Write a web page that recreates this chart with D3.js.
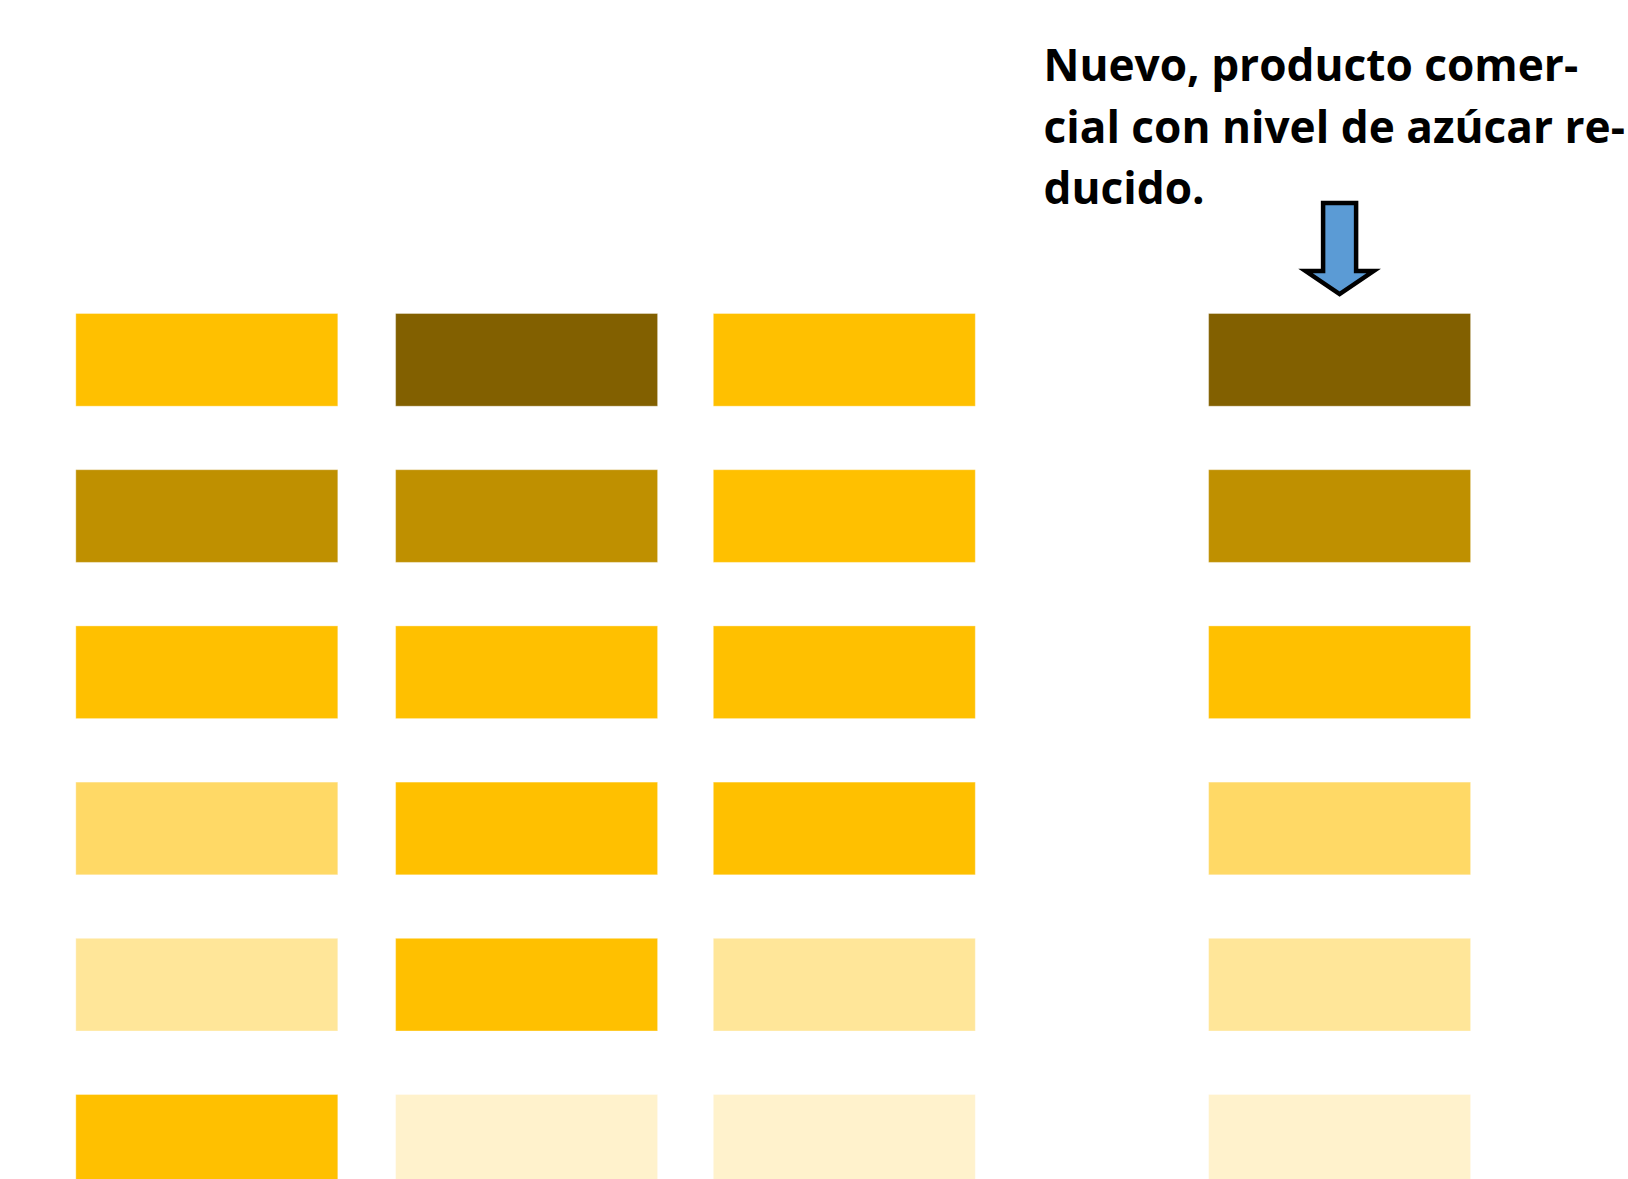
<!DOCTYPE html>
<html>
<head>
<meta charset="utf-8">
<script src="https://cdn.jsdelivr.net/npm/d3@7"></script>
<style>
  html, body { margin: 0; padding: 0; background: #ffffff; overflow: hidden; }
  svg { display: block; }
</style>
</head>
<body>
<svg id="chart" width="1628" height="1179"></svg>
<script>
// ---- Data ----
const columns = ["Muestra 1", "Muestra 2", "Muestra 3", "Nuevo"];
const rows = [1, 2, 3, 4, 5, 6];
// colour level per cell (0 = lightest ... 5 = darkest), one array per column, top to bottom
const levelsMuestra1 = [3, 4, 3, 2, 1, 3];
const levelsMuestra2 = [5, 4, 3, 3, 3, 0];
const levelsMuestra3 = [3, 3, 3, 3, 1, 0];
const levelsNuevo    = [5, 4, 3, 2, 1, 0];
const levelColors = ["#FFF2CC", "#FFE699", "#FFD966", "#FFC000", "#BF9000", "#826000"];
const annotationLines = ["Nuevo, producto comer-", "cial con nivel de azúcar re-", "ducido."];
const highlighted = "Nuevo";

const allLevels = [levelsMuestra1, levelsMuestra2, levelsMuestra3, levelsNuevo];
const cells = [];
columns.forEach((c, ci) => rows.forEach((r, ri) => cells.push({ col: c, row: r, level: allLevels[ci][ri] })));

// ---- Scales ----
const svg = d3.select("#chart");
const x = d3.scaleOrdinal().domain(columns).range([75.8, 395.6, 713.3, 1208.6]);
const barW = 262;
const y = d3.scaleLinear().domain([1, 2]).range([313.5, 469.7]);
const barH = 92.7;
const color = d3.scaleOrdinal().domain(d3.range(levelColors.length)).range(levelColors);

// ---- Cells ----
svg.append("g").selectAll("rect").data(cells).join("rect")
  .attr("x", d => x(d.col))
  .attr("y", d => y(d.row))
  .attr("width", barW)
  .attr("height", barH)
  .attr("fill", d => color(d.level))
  .attr("stroke", "#ffffff")
  .attr("stroke-opacity", 0.35)
  .attr("stroke-width", 1);

// ---- Annotation text ----
const ann = svg.append("text")
  .attr("font-family", "'Open Sans', sans-serif")
  .attr("font-weight", 700)
  .attr("font-size", 44.2)
  .attr("fill", "#000");
annotationLines.forEach((t, i) => {
  ann.append("tspan").attr("x", 1043.5).attr("y", 81 + i * 61.5).text(t);
});

// ---- Arrow pointing to highlighted column ----
const cx = x(highlighted) + barW / 2;
const shaftHalf = 16.5, headHalf = 34;
const topY = 203, headY = 271, tipY = 294;
const arrowPts = [
  [cx - shaftHalf, topY], [cx + shaftHalf, topY], [cx + shaftHalf, headY],
  [cx + headHalf, headY], [cx, tipY], [cx - headHalf, headY], [cx - shaftHalf, headY]
];
svg.append("path")
  .attr("d", d3.line()(arrowPts) + "Z")
  .attr("fill", "#5B9BD5")
  .attr("stroke", "#000")
  .attr("stroke-width", 4.5)
  .attr("stroke-linejoin", "miter");
</script>
</body>
</html>
